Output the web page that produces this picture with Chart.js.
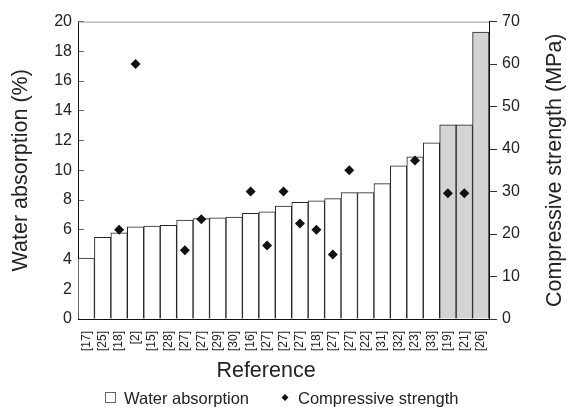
<!DOCTYPE html>
<html>
<head>
<meta charset="utf-8">
<script src="https://cdn.jsdelivr.net/npm/chart.js@4"></script>
<style>
  body { margin: 0; background: #fff; }
  canvas { display: block; }
</style>
</head>
<body>
<canvas id="myChart" width="567" height="407"></canvas>
<script>
// references, sorted by water absorption
var refs = ['[17]','[25]','[18]','[2]','[15]','[28]','[27]','[27]','[29]','[30]','[16]','[27]','[27]',
            '[27]','[18]','[27]','[27]','[22]','[31]','[32]','[23]','[33]','[19]','[21]','[26]'];
// water absorption (%)
var water = [4.1, 5.5, 5.8, 6.2, 6.25, 6.3, 6.65, 6.75, 6.8, 6.85, 7.1, 7.2, 7.6,
             7.85, 7.95, 8.1, 8.5, 8.5, 9.1, 10.3, 10.9, 11.85, 13.05, 13.05, 19.3];
// compressive strength (MPa), null where not reported
var strength = [null, null, 21, 60, null, null, 16.2, 23.5, null, null, 30, 17.3, 30,
                22.5, 21, 15.2, 35, null, null, null, 37.3, null, 29.6, 29.6, null];
var waxLabels = [0, 2, 4, 6, 8, 10, 12, 14, 16, 18, 20];

var font = "'Liberation Sans', Arial, sans-serif";
var ink = '#222';

var extras = {
  id: 'extras',
  afterDraw: function(chart) {
    var c = chart.ctx, a = chart.chartArea;
    c.save();
    // top border
    c.strokeStyle = '#999';
    c.lineWidth = 1;
    c.beginPath();
    c.moveTo(a.left, a.top + 0.5);
    c.lineTo(a.right, a.top + 0.5);
    c.stroke();

    c.fillStyle = ink;
    c.font = '21.5px ' + font;
    c.textAlign = 'center';
    c.textBaseline = 'middle';
    var mid = (a.top + a.bottom) / 2;
    // axis titles
    c.save();
    c.translate(21, mid);
    c.rotate(-Math.PI / 2);
    c.fillText('Water absorption (%)', 0, 0);
    c.restore();
    c.save();
    c.translate(555, mid);
    c.rotate(-Math.PI / 2);
    c.fillText('Compressive strength (MPa)', 0, 0);
    c.restore();
    c.fillText('Reference', 266, 371);

    // legend
    c.font = '16.5px ' + font;
    c.textAlign = 'left';
    c.strokeStyle = '#666';
    c.strokeRect(105.5, 392.5, 10, 10);
    c.fillText(chart.data.datasets[0].label, 124, 399);
    c.fillStyle = '#111';
    c.beginPath();
    c.moveTo(285, 394);
    c.lineTo(288.5, 397.5);
    c.lineTo(285, 401);
    c.lineTo(281.5, 397.5);
    c.closePath();
    c.fill();
    c.fillStyle = ink;
    c.fillText(chart.data.datasets[1].label, 298, 399);
    c.restore();
  }
};

var ctx = document.getElementById('myChart').getContext('2d');
var myChart = new Chart(ctx, {
  type: 'bar',
  data: {
    labels: refs,
    datasets: [
      {
        label: 'Water absorption',
        data: water,
        yAxisID: 'y',
        backgroundColor: function(c) { return c.dataIndex >= refs.length - 3 ? '#d4d4d4' : '#fff'; },
        borderColor: '#222',
        borderWidth: 1,
        barPercentage: 1,
        categoryPercentage: 1,
        order: 2
      },
      {
        type: 'line',
        label: 'Compressive strength',
        data: strength,
        yAxisID: 'y1',
        showLine: false,
        pointStyle: 'rectRot',
        pointRadius: 5,
        pointBackgroundColor: '#111',
        pointBorderColor: '#111',
        pointBorderWidth: 0,
        order: 1
      }
    ]
  },
  options: {
    responsive: false,
    animation: false,
    layout: { padding: { top: 18, left: 0, right: 0, bottom: 0 } },
    plugins: { legend: { display: false }, tooltip: { enabled: false } },
    scales: {
      x: {
        grid: { display: false },
        border: { display: true, color: '#111', width: 1 },
        ticks: { color: ink, font: { family: font, size: 12 }, minRotation: 90, maxRotation: 90, autoSkip: false, padding: 4 },
        afterFit: function(s) { s.height = 88; }
      },
      y: {
        position: 'left',
        z: 1,
        min: 0, max: 20,
        grid: { drawOnChartArea: false, drawTicks: true, tickLength: -6, color: '#666' },
        border: { display: true, color: '#111', width: 1 },
        ticks: {
          stepSize: 1,
          padding: 12,
          color: ink,
          font: { family: font, size: 16 },
          callback: function(v) { return waxLabels.indexOf(v) >= 0 ? v : ''; }
        },
        afterFit: function(s) { s.width = 78; }
      },
      y1: {
        position: 'right',
        min: 0, max: 70,
        grid: { drawOnChartArea: false, drawTicks: true, tickLength: 8, color: '#333' },
        border: { display: true, color: '#111', width: 1 },
        ticks: { stepSize: 10, padding: 5, color: ink, font: { family: font, size: 16 } },
        afterFit: function(s) { s.width = 78; }
      }
    }
  },
  plugins: [extras]
});
</script>
</body>
</html>
